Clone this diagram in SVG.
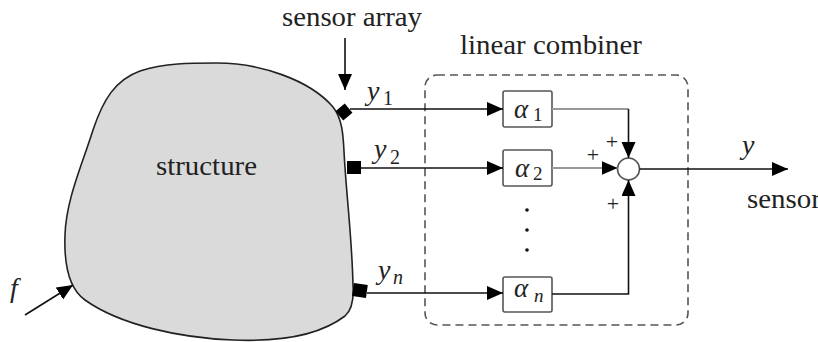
<svg xmlns="http://www.w3.org/2000/svg" width="818" height="342" viewBox="0 0 818 342">
<style>
text{font-family:"Liberation Serif","DejaVu Serif","Times New Roman",serif;fill:#222}
.m{font-style:italic}
.ln{stroke:#111;stroke-width:1.6;fill:none}
.gl{stroke:#999;stroke-width:1.8;fill:none}
.box{fill:#fff;stroke:#555;stroke-width:1.6}
</style>
<defs>
<marker id="ah" markerUnits="userSpaceOnUse" markerWidth="18" markerHeight="16" refX="16" refY="7" orient="auto">
<path d="M0,0 L16,7 L0,14 z" fill="#000"/>
</marker>
</defs>
<rect width="818" height="342" fill="#fff"/>

<g id="combiner-frame">
<rect x="425" y="75" width="263" height="250" rx="12" fill="none" stroke="#555" stroke-width="1.6" stroke-dasharray="8,5"/>
<text x="460" y="54" font-size="27" textLength="182" lengthAdjust="spacingAndGlyphs">linear combiner</text>
</g>

<g id="structure">
<path d="M217,63 C260,63 310,80 333,107 C345,122 343,145 345,167 C347,200 352,240 353,285 C354,300 352,310 345,316 C320,335 280,342 233,340 C180,338 120,325 85,300 C68,288 64,262 65,235 C66,200 82,165 93,130 C103,100 115,80 140,71 C165,63 190,63 217,63 Z" fill="#dadada" stroke="#222" stroke-width="1.6"/>
<text x="156" y="175" font-size="27" textLength="101" lengthAdjust="spacingAndGlyphs">structure</text>
</g>

<g id="sensors">
<rect x="338" y="106" width="12" height="12" fill="#000" transform="rotate(-40 344 112)"/>
<rect x="347" y="161" width="14" height="13" fill="#000"/>
<rect x="353" y="284" width="14" height="13" fill="#000" transform="rotate(8 360 290)"/>
<text x="282" y="26" font-size="27" textLength="140" lengthAdjust="spacingAndGlyphs">sensor array</text>
</g>

<g id="alpha1">
<rect class="box" x="503" y="91" width="49" height="36" rx="2"/>
<text class="m" x="514" y="118" font-size="27">α</text>
<text x="533" y="121" font-size="19">1</text>
</g>
<g id="alpha2">
<rect class="box" x="503" y="150" width="49" height="36" rx="2"/>
<text class="m" x="515" y="177" font-size="27">α</text>
<text x="533" y="180" font-size="19">2</text>
</g>
<g id="alphan">
<rect class="box" x="503" y="277" width="49" height="35" rx="2"/>
<text class="m" x="514" y="297" font-size="27">α</text>
<text class="m" x="534" y="302" font-size="19">n</text>
</g>
<g id="dots">
<circle cx="527" cy="210" r="1.8" fill="#111"/>
<circle cx="527" cy="230" r="1.8" fill="#111"/>
<circle cx="527" cy="250" r="1.8" fill="#111"/>
</g>

<g id="sum">
<circle cx="628.5" cy="169" r="11" fill="#fff" stroke="#555" stroke-width="1.6"/>
<text x="612" y="149" font-size="22" text-anchor="middle">+</text>
<text x="593" y="162" font-size="22" text-anchor="middle">+</text>
<text x="613" y="211" font-size="22" text-anchor="middle">+</text>
</g>

<g id="labels">
<text class="m" x="367" y="100" font-size="28">y</text>
<text x="383" y="105" font-size="20">1</text>
<text class="m" x="374" y="158" font-size="28">y</text>
<text x="390" y="164" font-size="20">2</text>
<text class="m" x="378" y="279" font-size="28">y</text>
<text class="m" x="393" y="284" font-size="20">n</text>
<text class="m" x="742" y="154" font-size="28">y</text>
<text x="747" y="208" font-size="27" textLength="74" lengthAdjust="spacingAndGlyphs">sensor</text>
<text class="m" x="10" y="297" font-size="28">f</text>
</g>

<g id="connectors">
<line class="ln" x1="345" y1="38" x2="345" y2="90" marker-end="url(#ah)"/>
<line class="ln" x1="25" y1="315" x2="73" y2="285" marker-end="url(#ah)"/>
<line class="ln" x1="350" y1="109" x2="503" y2="109" marker-end="url(#ah)"/>
<line class="ln" x1="361" y1="168" x2="503" y2="168" marker-end="url(#ah)"/>
<line class="ln" x1="367" y1="293" x2="503" y2="293" marker-end="url(#ah)"/>
<line class="gl" x1="552" y1="109" x2="628.5" y2="109"/>
<line class="ln" x1="628.5" y1="109" x2="628.5" y2="158" marker-end="url(#ah)"/>
<line class="gl" x1="552" y1="168" x2="617.5" y2="168" marker-end="url(#ah)"/>
<path class="ln" d="M552,294 H628.5 V180" marker-end="url(#ah)"/>
<line class="ln" x1="639.5" y1="169" x2="788" y2="169" marker-end="url(#ah)"/>
</g>
</svg>
